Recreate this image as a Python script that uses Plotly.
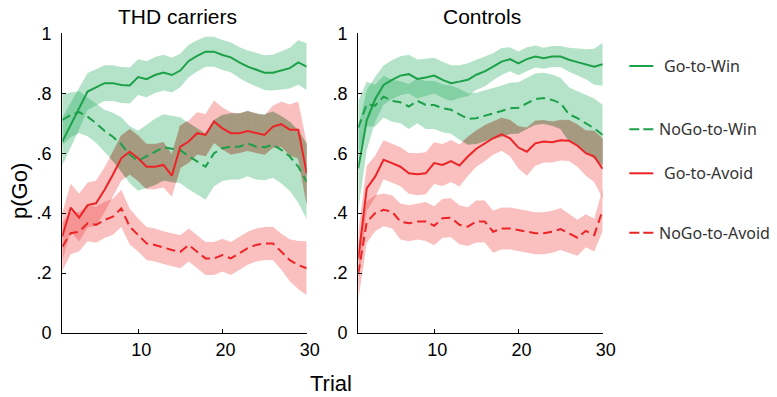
import plotly.graph_objects as go

# ---------------- data ----------------
trials = list(range(1, 31))
panel_titles = ["THD carriers", "Controls"]
conditions = ["Go-to-Win", "NoGo-to-Win", "Go-to-Avoid", "NoGo-to-Avoid"]
y_tickvals = [0, 0.2, 0.4, 0.6, 0.8, 1]
y_ticktext = ["0", ".2", ".4", ".6", ".8", "1"]
x_tickvals = [10, 20, 30]

# THD carriers
thd_go_win = [0.639, 0.695, 0.75, 0.806, 0.820, 0.834, 0.834, 0.828, 0.826, 0.854,
              0.847, 0.861, 0.869, 0.861, 0.876, 0.908, 0.925, 0.939, 0.939, 0.928,
              0.920, 0.903, 0.889, 0.878, 0.869, 0.869, 0.876, 0.884, 0.903, 0.889]
thd_go_win_err = [0.08, 0.075, 0.07, 0.062, 0.06, 0.06, 0.06, 0.06, 0.06, 0.06,
                  0.06, 0.06, 0.06, 0.058, 0.056, 0.054, 0.052, 0.05, 0.05, 0.05,
                  0.05, 0.052, 0.054, 0.056, 0.058, 0.06, 0.064, 0.068, 0.074, 0.078]
thd_nogo_win = [0.711, 0.728, 0.737, 0.722, 0.70, 0.675, 0.655, 0.63, 0.595, 0.575,
                0.59, 0.605, 0.62, 0.615, 0.61, 0.59, 0.572, 0.555, 0.60, 0.617,
                0.622, 0.622, 0.633, 0.622, 0.62, 0.628, 0.611, 0.589, 0.555, 0.505]
thd_nogo_win_err = [0.085, 0.075, 0.07, 0.065, 0.065, 0.07, 0.08, 0.09, 0.095, 0.1,
                    0.105, 0.11, 0.11, 0.11, 0.11, 0.11, 0.11, 0.11, 0.11, 0.11,
                    0.11, 0.11, 0.11, 0.11, 0.11, 0.11, 0.112, 0.115, 0.12, 0.125]
thd_go_avoid = [0.322, 0.418, 0.385, 0.427, 0.433, 0.477, 0.528, 0.583, 0.605, 0.583,
                0.555, 0.555, 0.561, 0.525, 0.622, 0.639, 0.667, 0.661, 0.706, 0.683,
                0.667, 0.667, 0.674, 0.667, 0.661, 0.689, 0.697, 0.678, 0.678, 0.533]
thd_go_avoid_err = [0.08, 0.08, 0.08, 0.075, 0.075, 0.075, 0.075, 0.075, 0.075, 0.075,
                    0.075, 0.075, 0.075, 0.07, 0.07, 0.07, 0.07, 0.07, 0.07, 0.07,
                    0.07, 0.065, 0.065, 0.065, 0.065, 0.07, 0.075, 0.085, 0.095, 0.1]
thd_nogo_avoid = [0.288, 0.333, 0.338, 0.366, 0.361, 0.377, 0.388, 0.416, 0.355, 0.327,
                  0.299, 0.294, 0.285, 0.277, 0.271, 0.294, 0.271, 0.249, 0.249, 0.260,
                  0.249, 0.266, 0.283, 0.294, 0.299, 0.299, 0.271, 0.243, 0.227, 0.216]
thd_nogo_avoid_err = [0.08, 0.07, 0.065, 0.06, 0.06, 0.06, 0.06, 0.062, 0.06, 0.055,
                      0.055, 0.055, 0.055, 0.055, 0.055, 0.055, 0.055, 0.055, 0.055, 0.055,
                      0.055, 0.055, 0.055, 0.055, 0.055, 0.056, 0.06, 0.07, 0.08, 0.09]

# Controls
ctl_go_win = [0.55, 0.71, 0.78, 0.828, 0.845, 0.859, 0.864, 0.848, 0.853, 0.859,
              0.845, 0.834, 0.839, 0.845, 0.862, 0.873, 0.889, 0.906, 0.914, 0.900,
              0.914, 0.923, 0.917, 0.923, 0.923, 0.912, 0.904, 0.897, 0.889, 0.897]
ctl_go_win_err = [0.14, 0.1, 0.075, 0.065, 0.065, 0.065, 0.065, 0.065, 0.062, 0.06,
                  0.06, 0.06, 0.055, 0.055, 0.05, 0.05, 0.045, 0.045, 0.04, 0.04,
                  0.04, 0.037, 0.035, 0.035, 0.035, 0.04, 0.045, 0.05, 0.06, 0.072]
ctl_nogo_win = [0.685, 0.764, 0.759, 0.789, 0.775, 0.770, 0.756, 0.775, 0.761, 0.761,
                0.750, 0.745, 0.730, 0.715, 0.717, 0.726, 0.733, 0.741, 0.750, 0.752,
                0.767, 0.781, 0.784, 0.778, 0.767, 0.730, 0.717, 0.700, 0.683, 0.661]
ctl_nogo_win_err = [0.09, 0.075, 0.07, 0.07, 0.07, 0.07, 0.075, 0.075, 0.08, 0.08,
                    0.08, 0.08, 0.085, 0.085, 0.085, 0.085, 0.085, 0.085, 0.085, 0.085,
                    0.085, 0.085, 0.085, 0.085, 0.085, 0.09, 0.09, 0.095, 0.1, 0.1]
ctl_go_avoid = [0.249, 0.483, 0.522, 0.578, 0.567, 0.555, 0.533, 0.530, 0.533, 0.567,
                0.561, 0.574, 0.559, 0.589, 0.615, 0.633, 0.65, 0.663, 0.65, 0.619,
                0.605, 0.633, 0.639, 0.637, 0.643, 0.642, 0.625, 0.6, 0.589, 0.548]
ctl_go_avoid_err = [0.09, 0.075, 0.07, 0.065, 0.065, 0.065, 0.068, 0.07, 0.07, 0.07,
                    0.07, 0.07, 0.07, 0.065, 0.06, 0.06, 0.055, 0.055, 0.06, 0.07,
                    0.08, 0.075, 0.07, 0.068, 0.067, 0.068, 0.07, 0.075, 0.085, 0.1]
ctl_nogo_avoid = [0.199, 0.37, 0.40, 0.411, 0.405, 0.372, 0.366, 0.372, 0.372, 0.358,
                  0.383, 0.385, 0.361, 0.355, 0.372, 0.372, 0.338, 0.349, 0.349, 0.344,
                  0.338, 0.333, 0.333, 0.338, 0.347, 0.333, 0.318, 0.341, 0.327, 0.411]
ctl_nogo_avoid_err = [0.09, 0.07, 0.06, 0.055, 0.055, 0.06, 0.06, 0.06, 0.065, 0.065,
                      0.065, 0.065, 0.065, 0.065, 0.07, 0.07, 0.07, 0.07, 0.07, 0.07,
                      0.07, 0.07, 0.07, 0.07, 0.07, 0.065, 0.06, 0.055, 0.055, 0.07]

panels = [
    [(thd_go_win, thd_go_win_err), (thd_nogo_win, thd_nogo_win_err),
     (thd_go_avoid, thd_go_avoid_err), (thd_nogo_avoid, thd_nogo_avoid_err)],
    [(ctl_go_win, ctl_go_win_err), (ctl_nogo_win, ctl_nogo_win_err),
     (ctl_go_avoid, ctl_go_avoid_err), (ctl_nogo_avoid, ctl_nogo_avoid_err)],
]

# ---------------- styles ----------------
GREEN = "rgb(28,160,72)"
RED = "rgb(236,36,38)"
GREEN_FILL = "rgba(30,170,90,0.33)"
RED_FILL = "rgba(240,60,60,0.33)"
BROWN = "rgb(166,154,128)"
line_colors = [GREEN, GREEN, RED, RED]
fill_colors = [GREEN_FILL, GREEN_FILL, RED_FILL, RED_FILL]
dashes = ["solid", "9px,5px", "solid", "9px,5px"]

W, H = 777, 397
y_dom = [(H - 333) / H, (H - 33.4) / H]
x_doms = [[62.3 / W, 306.7 / W], [358.3 / W, 602.7 / W]]


def clip_poly(subject, clipper):
    out = list(subject)
    n = len(clipper)
    for i in range(n):
        if not out:
            break
        a = clipper[i]
        b = clipper[(i + 1) % n]

        def inside(p):
            return (b[0] - a[0]) * (p[1] - a[1]) - (b[1] - a[1]) * (p[0] - a[0]) >= 0

        def inter(p, q):
            x1, y1 = p
            x2, y2 = q
            x3, y3 = a
            x4, y4 = b
            den = (x1 - x2) * (y3 - y4) - (y1 - y2) * (x3 - x4)
            if den == 0:
                return q
            t = ((x1 - x3) * (y3 - y4) - (y1 - y3) * (x3 - x4)) / den
            return (x1 + t * (x2 - x1), y1 + t * (y2 - y1))

        inp = out
        out = []
        s = inp[-1]
        for e in inp:
            if inside(e):
                if not inside(s):
                    out.append(inter(s, e))
                out.append(e)
            elif inside(s):
                out.append(inter(s, e))
            s = e
    return out


def area(poly):
    s = 0.0
    for i in range(len(poly)):
        x1, y1 = poly[i]
        x2, y2 = poly[(i + 1) % len(poly)]
        s += x1 * y2 - x2 * y1
    return abs(s) / 2


fig = go.Figure()

for p, series in enumerate(panels):
    xa = "x" if p == 0 else "x2"
    ya = "y" if p == 0 else "y2"
    # bands
    for k, (m, e) in enumerate(series):
        up = [a + b for a, b in zip(m, e)]
        lo = [a - b for a, b in zip(m, e)]
        fig.add_trace(go.Scatter(
            x=trials + trials[::-1], y=up + lo[::-1], fill="toself",
            fillcolor=fill_colors[k], line=dict(width=0), mode="lines",
            hoverinfo="skip", showlegend=False, xaxis=xa, yaxis=ya))
    # overlap of win (green) and avoid (red) bands
    xs, ys = [], []
    for gi in [0, 1]:
        for ri in [2, 3]:
            gm, ge = series[gi]
            rm, re_ = series[ri]
            for i in range(len(trials) - 1):
                a, b = trials[i], trials[i + 1]
                polyg = [(a, gm[i] - ge[i]), (b, gm[i + 1] - ge[i + 1]),
                         (b, gm[i + 1] + ge[i + 1]), (a, gm[i] + ge[i])]
                polyr = [(a, rm[i] - re_[i]), (b, rm[i + 1] - re_[i + 1]),
                         (b, rm[i + 1] + re_[i + 1]), (a, rm[i] + re_[i])]
                inter_poly = clip_poly(polyg, polyr)
                if len(inter_poly) >= 3 and area(inter_poly) > 1e-7:
                    for (px, py) in inter_poly:
                        xs.append(px)
                        ys.append(py)
                    xs.append(inter_poly[0][0])
                    ys.append(inter_poly[0][1])
                    xs.append(None)
                    ys.append(None)
    if xs:
        fig.add_trace(go.Scatter(
            x=xs, y=ys, fill="toself", fillcolor=BROWN,
            line=dict(width=0.6, color=BROWN), mode="lines",
            hoverinfo="skip", showlegend=False, xaxis=xa, yaxis=ya))
    # mean lines
    for k, (m, e) in enumerate(series):
        fig.add_trace(go.Scatter(
            x=trials, y=m, mode="lines",
            line=dict(color=line_colors[k], width=2, dash=dashes[k]),
            name=conditions[k], showlegend=False, xaxis=xa, yaxis=ya))

axis_common = dict(
    showline=True, linecolor="black", linewidth=1.2, mirror=False,
    ticks="inside", ticklen=4, tickwidth=1, tickcolor="black",
    showgrid=False, zeroline=False, automargin=False,
    tickfont=dict(family="Liberation Sans, Arial, sans-serif", size=18, color="black"),
)

layout = dict(
    width=W, height=H, margin=dict(l=0, r=0, t=0, b=0, autoexpand=False),
    paper_bgcolor="white", plot_bgcolor="white", showlegend=False,
)
for p in range(2):
    suf = "" if p == 0 else "2"
    layout["xaxis" + suf] = dict(axis_common, domain=x_doms[p], range=[1, 30],
                                 tickvals=x_tickvals, ticklabelshift=3,
                                 anchor="y" + suf)
    layout["yaxis" + suf] = dict(axis_common, domain=y_dom, range=[0, 1],
                                 tickvals=y_tickvals, ticktext=y_ticktext,
                                 ticklabelstandoff=6, anchor="x" + suf)
fig.update_layout(**layout)


def px_x(v):
    return v / W


def px_y(v):
    return 1 - v / H


title_font = dict(family="Liberation Sans, Arial, sans-serif", size=21, color="black")
annotations = [
    dict(text=panel_titles[0], x=px_x(177.5), y=px_y(16), xref="paper", yref="paper",
         xanchor="center", yanchor="middle", showarrow=False, font=title_font),
    dict(text=panel_titles[1], x=px_x(481.5), y=px_y(16), xref="paper", yref="paper",
         xanchor="center", yanchor="middle", showarrow=False, font=title_font),
    dict(text="p(Go)", x=px_x(20), y=px_y(191), xref="paper", yref="paper",
         xanchor="center", yanchor="middle", textangle=-90, showarrow=False,
         font=dict(family="Liberation Sans, Arial, sans-serif", size=22, color="black")),
    dict(text="Trial", x=px_x(331), y=px_y(383), xref="paper", yref="paper",
         xanchor="center", yanchor="middle", showarrow=False,
         font=dict(family="Liberation Sans, Arial, sans-serif", size=22, color="black")),
]

legend_y = [66, 129.3, 173.3, 232.7]
legend_text_x = [662, 657, 662, 657]
shapes = []
for k in range(4):
    shapes.append(dict(type="line", xref="paper", yref="paper",
                       x0=px_x(629.3), x1=px_x(653.3), y0=px_y(legend_y[k]), y1=px_y(legend_y[k]),
                       line=dict(color=line_colors[k], width=2,
                                 dash="solid" if dashes[k] == "solid" else "10px,4px")))
    annotations.append(dict(text=conditions[k], x=px_x(legend_text_x[k]), y=px_y(legend_y[k]),
                            xref="paper", yref="paper", xanchor="left", yanchor="middle",
                            showarrow=False,
                            font=dict(family="Noto Sans, Open Sans, sans-serif", size=16, color="#333333")))

fig.update_layout(annotations=annotations, shapes=shapes)
fig.write_html("out.html")
